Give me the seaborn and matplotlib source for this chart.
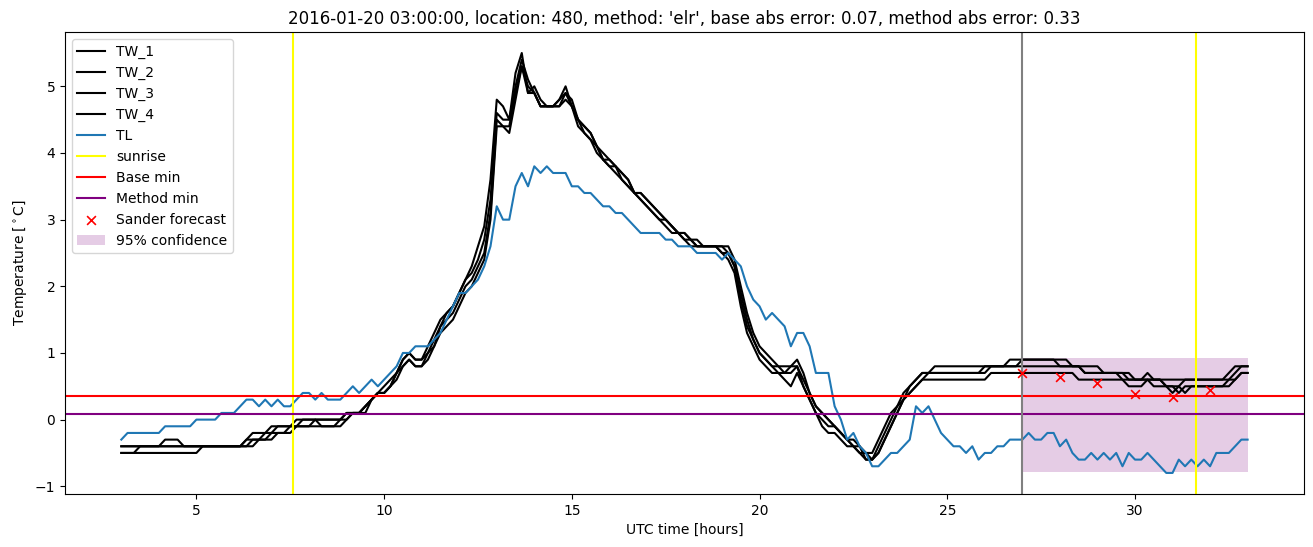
import numpy as np
import matplotlib
matplotlib.use("Agg")
import matplotlib.pyplot as plt
import seaborn as sns

# ---------------- data ----------------
hours = np.linspace(3, 33, 181)  # 10-minute samples

TW_1 = [
    -0.4, -0.4, -0.4, -0.4, -0.4, -0.4,
    -0.4, -0.3, -0.3, -0.3, -0.4, -0.4,
    -0.4, -0.4, -0.4, -0.4, -0.4, -0.4,
    -0.4, -0.4, -0.3, -0.2, -0.2, -0.2,
    -0.1, -0.1, -0.1, -0.1, 0.0, 0.0,
    0.0, 0.0, 0.0, 0.0, 0.0, 0.0,
    0.1, 0.1, 0.1, 0.2, 0.3, 0.4,
    0.5, 0.6, 0.7, 0.9, 1.0, 0.9,
    0.9, 1.1, 1.3, 1.5, 1.6, 1.7,
    1.9, 2.1, 2.3, 2.6, 2.9, 3.6,
    4.8, 4.7, 4.5, 5.2, 5.5, 4.9,
    5.0, 4.8, 4.7, 4.7, 4.8, 5.0,
    4.7, 4.5, 4.4, 4.3, 4.1, 4.0,
    3.9, 3.8, 3.7, 3.6, 3.4, 3.4,
    3.3, 3.2, 3.1, 3.0, 2.9, 2.8,
    2.8, 2.7, 2.7, 2.6, 2.6, 2.6,
    2.6, 2.6, 2.4, 2.0, 1.6, 1.3,
    1.1, 1.0, 0.9, 0.8, 0.8, 0.8,
    0.9, 0.7, 0.4, 0.2, 0.1, 0.0,
    -0.1, -0.2, -0.3, -0.4, -0.5, -0.5,
    -0.5, -0.3, -0.1, 0.1, 0.2, 0.4,
    0.5, 0.6, 0.7, 0.7, 0.8, 0.8,
    0.8, 0.8, 0.8, 0.8, 0.8, 0.8,
    0.8, 0.8, 0.8, 0.8, 0.9, 0.9,
    0.9, 0.9, 0.9, 0.9, 0.9, 0.9,
    0.8, 0.8, 0.8, 0.8, 0.7, 0.7,
    0.7, 0.7, 0.7, 0.7, 0.7, 0.6,
    0.6, 0.6, 0.7, 0.6, 0.6, 0.6,
    0.6, 0.6, 0.6, 0.6, 0.6, 0.6,
    0.6, 0.6, 0.6, 0.7, 0.8, 0.8,
    0.8,
]

TW_2 = [
    -0.4, -0.4, -0.4, -0.4, -0.4, -0.4,
    -0.4, -0.4, -0.4, -0.4, -0.4, -0.4,
    -0.4, -0.4, -0.4, -0.4, -0.4, -0.4,
    -0.4, -0.4, -0.3, -0.3, -0.3, -0.2,
    -0.2, -0.1, -0.1, -0.1, -0.1, 0.0,
    0.0, 0.0, -0.1, -0.1, -0.1, 0.0,
    0.1, 0.1, 0.1, 0.2, 0.3, 0.4,
    0.4, 0.5, 0.7, 0.9, 1.0, 0.9,
    0.9, 1.0, 1.2, 1.4, 1.6, 1.7,
    1.9, 2.1, 2.2, 2.4, 2.7, 3.3,
    4.6, 4.5, 4.5, 5.0, 5.4, 5.1,
    4.9, 4.7, 4.7, 4.7, 4.8, 4.9,
    4.8, 4.5, 4.4, 4.3, 4.1, 3.9,
    3.9, 3.8, 3.7, 3.6, 3.4, 3.4,
    3.3, 3.2, 3.1, 3.0, 2.9, 2.8,
    2.8, 2.7, 2.6, 2.6, 2.6, 2.6,
    2.6, 2.5, 2.3, 1.9, 1.5, 1.2,
    1.0, 0.9, 0.8, 0.8, 0.7, 0.8,
    0.8, 0.6, 0.4, 0.2, 0.1, 0.0,
    -0.1, -0.2, -0.3, -0.3, -0.4, -0.5,
    -0.6, -0.4, -0.2, 0.0, 0.2, 0.3,
    0.5, 0.6, 0.7, 0.7, 0.7, 0.7,
    0.7, 0.7, 0.7, 0.7, 0.7, 0.7,
    0.8, 0.8, 0.8, 0.8, 0.8, 0.8,
    0.9, 0.9, 0.9, 0.9, 0.9, 0.9,
    0.9, 0.9, 0.8, 0.8, 0.8, 0.8,
    0.8, 0.7, 0.7, 0.7, 0.7, 0.7,
    0.6, 0.6, 0.6, 0.6, 0.6, 0.5,
    0.4, 0.5, 0.6, 0.6, 0.6, 0.6,
    0.6, 0.6, 0.6, 0.6, 0.7, 0.8,
    0.8,
]

TW_3 = [
    -0.5, -0.5, -0.5, -0.4, -0.4, -0.4,
    -0.4, -0.4, -0.4, -0.4, -0.4, -0.4,
    -0.4, -0.4, -0.4, -0.4, -0.4, -0.4,
    -0.4, -0.4, -0.4, -0.3, -0.3, -0.3,
    -0.2, -0.2, -0.2, -0.1, -0.1, -0.1,
    -0.1, 0.0, 0.0, 0.0, 0.0, 0.0,
    0.0, 0.1, 0.1, 0.2, 0.3, 0.4,
    0.4, 0.5, 0.7, 0.8, 0.9, 0.8,
    0.8, 1.0, 1.1, 1.4, 1.5, 1.6,
    1.8, 2.0, 2.1, 2.3, 2.5, 3.1,
    4.5, 4.4, 4.4, 4.9, 5.3, 5.0,
    4.9, 4.7, 4.7, 4.7, 4.7, 4.9,
    4.7, 4.5, 4.3, 4.2, 4.1, 3.9,
    3.8, 3.8, 3.6, 3.5, 3.4, 3.3,
    3.2, 3.1, 3.0, 3.0, 2.9, 2.8,
    2.7, 2.7, 2.6, 2.6, 2.6, 2.6,
    2.5, 2.5, 2.3, 1.8, 1.4, 1.2,
    1.0, 0.9, 0.8, 0.7, 0.7, 0.7,
    0.8, 0.5, 0.3, 0.1, 0.0, -0.1,
    -0.1, -0.2, -0.3, -0.4, -0.4, -0.6,
    -0.6, -0.5, -0.3, -0.1, 0.1, 0.3,
    0.4, 0.5, 0.6, 0.7, 0.7, 0.7,
    0.7, 0.7, 0.7, 0.7, 0.7, 0.7,
    0.7, 0.8, 0.8, 0.8, 0.8, 0.8,
    0.8, 0.8, 0.8, 0.8, 0.8, 0.8,
    0.8, 0.8, 0.8, 0.8, 0.7, 0.7,
    0.7, 0.7, 0.7, 0.7, 0.6, 0.6,
    0.6, 0.6, 0.6, 0.6, 0.6, 0.5,
    0.5, 0.4, 0.5, 0.5, 0.5, 0.5,
    0.5, 0.5, 0.5, 0.6, 0.6, 0.7,
    0.7,
]

TW_4 = [
    -0.5, -0.5, -0.5, -0.5, -0.5, -0.5,
    -0.5, -0.5, -0.5, -0.5, -0.5, -0.5,
    -0.5, -0.4, -0.4, -0.4, -0.4, -0.4,
    -0.4, -0.4, -0.4, -0.4, -0.3, -0.3,
    -0.3, -0.2, -0.2, -0.2, -0.1, -0.1,
    -0.1, -0.1, -0.1, -0.1, -0.1, -0.1,
    0.0, 0.1, 0.1, 0.1, 0.3, 0.4,
    0.4, 0.5, 0.6, 0.8, 0.9, 0.8,
    0.8, 0.9, 1.1, 1.3, 1.4, 1.5,
    1.7, 1.9, 2.0, 2.2, 2.4, 3.0,
    4.4, 4.4, 4.3, 4.8, 5.3, 4.9,
    4.9, 4.7, 4.7, 4.7, 4.7, 4.8,
    4.7, 4.4, 4.3, 4.2, 4.0, 3.9,
    3.8, 3.7, 3.6, 3.5, 3.4, 3.3,
    3.2, 3.1, 3.0, 2.9, 2.8, 2.8,
    2.7, 2.6, 2.6, 2.6, 2.6, 2.6,
    2.5, 2.4, 2.2, 1.7, 1.3, 1.1,
    0.9, 0.8, 0.7, 0.7, 0.6, 0.5,
    0.7, 0.5, 0.3, 0.1, -0.1, -0.2,
    -0.2, -0.3, -0.4, -0.4, -0.5, -0.6,
    -0.6, -0.5, -0.3, -0.1, 0.1, 0.3,
    0.4, 0.5, 0.6, 0.6, 0.6, 0.6,
    0.6, 0.6, 0.6, 0.6, 0.6, 0.6,
    0.6, 0.7, 0.7, 0.7, 0.7, 0.7,
    0.7, 0.7, 0.7, 0.7, 0.7, 0.7,
    0.7, 0.7, 0.7, 0.6, 0.6, 0.6,
    0.6, 0.6, 0.6, 0.6, 0.6, 0.5,
    0.5, 0.5, 0.6, 0.5, 0.5, 0.5,
    0.5, 0.5, 0.4, 0.5, 0.5, 0.5,
    0.5, 0.5, 0.5, 0.5, 0.6, 0.7,
    0.7,
]

TL = [
    -0.3, -0.2, -0.2, -0.2, -0.2, -0.2,
    -0.2, -0.1, -0.1, -0.1, -0.1, -0.1,
    0.0, 0.0, 0.0, 0.0, 0.1, 0.1,
    0.1, 0.2, 0.3, 0.3, 0.2, 0.3,
    0.2, 0.3, 0.2, 0.2, 0.3, 0.4,
    0.4, 0.3, 0.4, 0.3, 0.3, 0.3,
    0.4, 0.5, 0.4, 0.5, 0.6, 0.5,
    0.6, 0.7, 0.8, 1.0, 1.0, 1.1,
    1.1, 1.1, 1.2, 1.3, 1.5, 1.7,
    1.9, 1.9, 2.0, 2.1, 2.3, 2.6,
    3.2, 3.0, 3.0, 3.5, 3.7, 3.5,
    3.8, 3.7, 3.8, 3.7, 3.7, 3.7,
    3.5, 3.5, 3.4, 3.4, 3.3, 3.2,
    3.2, 3.1, 3.1, 3.0, 2.9, 2.8,
    2.8, 2.8, 2.8, 2.7, 2.7, 2.6,
    2.6, 2.6, 2.5, 2.5, 2.5, 2.5,
    2.4, 2.5, 2.4, 2.3, 2.0, 1.8,
    1.7, 1.5, 1.6, 1.5, 1.4, 1.1,
    1.3, 1.3, 1.1, 0.7, 0.7, 0.7,
    0.2, 0.0, -0.3, -0.2, -0.4, -0.5,
    -0.7, -0.7, -0.6, -0.5, -0.5, -0.4,
    -0.3, 0.2, 0.1, 0.2, 0.0, -0.2,
    -0.3, -0.4, -0.4, -0.5, -0.4, -0.6,
    -0.5, -0.5, -0.4, -0.4, -0.3, -0.3,
    -0.3, -0.2, -0.3, -0.3, -0.2, -0.2,
    -0.4, -0.3, -0.5, -0.6, -0.6, -0.5,
    -0.6, -0.5, -0.6, -0.5, -0.7, -0.5,
    -0.6, -0.6, -0.5, -0.6, -0.7, -0.8,
    -0.8, -0.6, -0.7, -0.6, -0.7, -0.6,
    -0.7, -0.5, -0.5, -0.5, -0.4, -0.3,
    -0.3,
]

sunrise_hours = [7.58, 31.63]
forecast_start = 27.0
base_min = 0.35
method_min = 0.09
sander_hours = [27, 28, 29, 30, 31, 32]
sander_values = [0.70, 0.64, 0.55, 0.39, 0.34, 0.44]
conf_hours = [27, 33]
conf_low = [-0.78, -0.78]
conf_high = [0.93, 0.93]

title = ("2016-01-20 03:00:00, location: 480, method: 'elr', "
         "base abs error: 0.07, method abs error: 0.33")

# ---------------- plot ----------------
fig = plt.figure(figsize=(13.13, 5.47), dpi=100)
ax = fig.add_axes([0.0495, 0.097, 0.9436, 0.8445])

for name, series in [("TW_1", TW_1), ("TW_2", TW_2), ("TW_3", TW_3), ("TW_4", TW_4)]:
    sns.lineplot(x=hours, y=series, color="black", label=name, ax=ax,
                 estimator=None, linewidth=1.5)
sns.lineplot(x=hours, y=TL, color="#1f77b4", label="TL", ax=ax,
             estimator=None, linewidth=1.5)

for i, sr in enumerate(sunrise_hours):
    ax.axvline(sr, color="yellow", label="sunrise" if i == 0 else None)
ax.axhline(base_min, color="red", label="Base min")
ax.axhline(method_min, color="purple", label="Method min")
ax.axvline(forecast_start, color="grey")

sns.scatterplot(x=sander_hours, y=sander_values, marker="x", color="red",
                s=40, linewidth=1.2, label="Sander forecast", ax=ax, zorder=5)
ax.fill_between(conf_hours, conf_low, conf_high, color="purple", alpha=0.2,
                linewidth=0, label="95% confidence", zorder=0)

ax.set_xlim(1.5, 34.5)
ax.set_ylim(-1.115, 5.815)
ax.set_xlabel("UTC time [hours]")
ax.set_ylabel(r"Temperature [$^\circ$C]")
ax.set_title(title, fontsize=12)
ax.legend(loc="upper left")

fig.savefig("out.png", dpi=100)
